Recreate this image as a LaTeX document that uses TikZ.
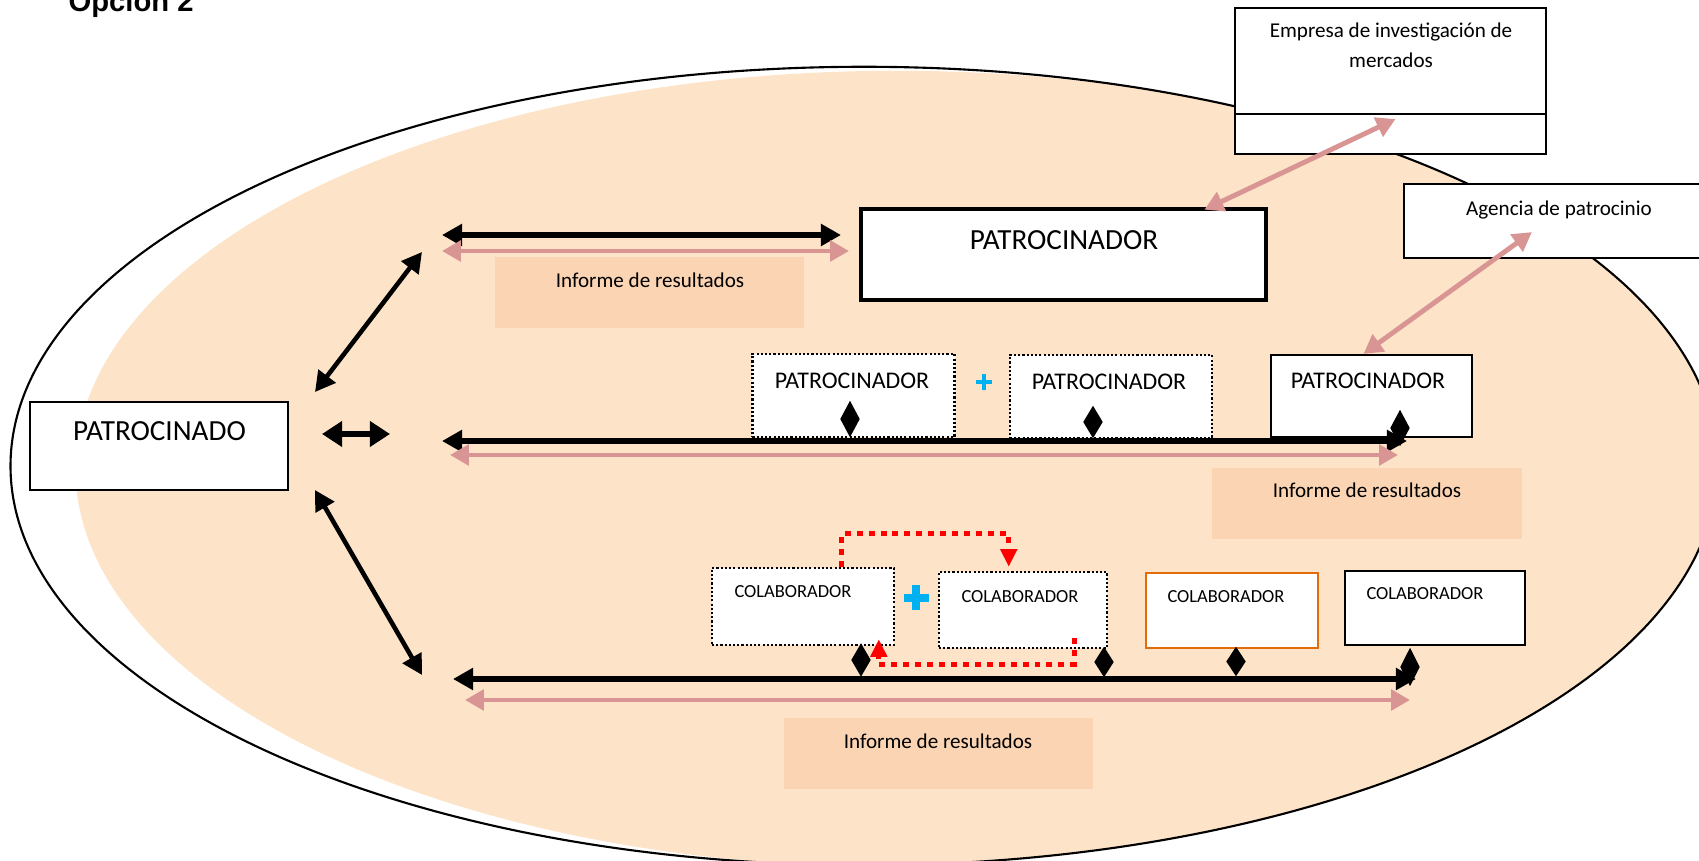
\documentclass[tikz,border=0pt]{standalone}
\usepackage{fontspec}
\setmainfont{Carlito}
\newfontfamily\arialfont{Liberation Sans}
\usetikzlibrary{arrows.meta,shapes.geometric,positioning}

\definecolor{durazno}{HTML}{FDE4C9}
\definecolor{duraznoosc}{HTML}{FBD4B4}
\definecolor{rosa}{HTML}{D99594}
\definecolor{celeste}{HTML}{00B0F0}
\definecolor{naranja}{HTML}{E36C0A}

\tikzset{
   caja/.style={draw, fill=white, line width=.6pt, inner sep=0pt},
   punteada/.style={caja, line width=.7pt, dash pattern=on .6pt off .6pt},
   informe/.style={fill=duraznoosc, inner sep=0pt},
   rombo/.style={diamond, fill=black, inner sep=0pt, minimum width=.2cm},
   negra/.style={line width=1.6pt, {Triangle[length=5.7pt,width=6pt]}-{Triangle[length=5.7pt,width=6pt]}},
   flecharosa/.style={rosa, line width=1.4pt, {Triangle[length=5.4pt,width=5.8pt]}-{Triangle[length=5.4pt,width=5.8pt]}},
   roja/.style={red, line width=1.4pt, dash pattern=on 1.7pt off 1.7pt, -{Triangle[length=5pt,width=4.6pt]}},
   grande/.style={font=\fontsize{8.3}{10}\selectfont},
   mediana/.style={font=\fontsize{6.8}{8}\selectfont},
   texto/.style={font=\fontsize{6}{8.5}\selectfont, align=center},
   chica/.style={font=\fontsize{5.25}{6.5}\selectfont}
}

\begin{document}
\begin{tikzpicture}[x=0.01cm, y=-0.01cm]
   \useasboundingbox (0,0) rectangle (1699,861);
   \clip (0,0) rectangle (1699,861);

   \begin{scope}
      \clip (864,466) ellipse [x radius=8.53cm, y radius=3.99cm];
      \fill[durazno] (896.5,469) ellipse [x radius=8.205cm, y radius=3.98cm];
   \end{scope}
   \draw[line width=.6pt] (864,466) ellipse [x radius=8.53cm, y radius=3.99cm];

   \node[anchor=base west, inner sep=0pt, font=\arialfont\bfseries\fontsize{8.3}{10}\selectfont] (titulo) at (68,12) {Opción 2};

   \node[informe, minimum width=3.09cm, minimum height=.71cm] (inf1) at (649.5,292.5) {};
   \node[informe, minimum width=3.10cm, minimum height=.71cm] (inf2) at (1367,503.5) {};
   \node[informe, minimum width=3.09cm, minimum height=.71cm] (inf3) at (938.5,753.5) {};

   \node[caja, minimum width=2.58cm, minimum height=.88cm] (pdo) at (159,446) {};
   \node[caja, line width=1.3pt, minimum width=4.05cm, minimum height=.91cm] (pat) at (1063.5,254.5) {};
   \node[caja, minimum width=3.11cm, minimum height=1.46cm] (emp) at (1390.5,81) {};
   \draw[line width=.6pt] (emp.west |- 0,114) -- (emp.east |- 0,114);
   \node[caja, minimum width=3.16cm, minimum height=.74cm] (ag) at (1562,221) {};

   \node[punteada, minimum width=2.02cm, minimum height=.83cm] (p1) at (853.5,395.5) {};
   \node[punteada, minimum width=2.02cm, minimum height=.83cm] (p2) at (1111,396.5) {};
   \node[caja, minimum width=2.01cm, minimum height=.82cm] (p3) at (1371.5,396) {};

   \node[punteada, minimum width=1.82cm, minimum height=.77cm] (c1) at (803,606.5) {};
   \node[punteada, minimum width=1.68cm, minimum height=.76cm] (c2) at (1023,610) {};
   \node[caja, draw=naranja, minimum width=1.72cm, minimum height=.75cm] (c3) at (1232,610.5) {};
   \node[caja, line width=.8pt, minimum width=1.80cm, minimum height=.74cm] (c4) at (1435,608) {};

   \node[texto] (tinf1) at (650,280) {Informe de resultados};
   \node[texto] (tinf2) at (1367,490.5) {Informe de resultados};
   \node[texto] (tinf3) at (938,741.5) {Informe de resultados};
   \node[texto] (temp) at (1391,45) {Empresa de investigación de\\mercados};
   \node[texto] (tag) at (1559,209.5) {Agencia de patrocinio};
   \node[grande] (tpdo) at (159.5,431.5) {PATROCINADO};
   \node[grande] (tpat) at (1064,240) {PATROCINADOR};
   \node[mediana] (tp1) at (852,381) {PATROCINADOR};
   \node[mediana] (tp2) at (1109,382) {PATROCINADOR};
   \node[mediana] (tp3) at (1368,380.5) {PATROCINADOR};
   \node[chica] (tc1) at (793,592) {COLABORADOR};
   \node[chica] (tc2) at (1020,596.5) {COLABORADOR};
   \node[chica] (tc3) at (1226,596.5) {COLABORADOR};
   \node[chica] (tc4) at (1425,593.5) {COLABORADOR};

   \coordinate (d1a) at (315,392);  \coordinate (d1b) at (422,252);
   \coordinate (d2a) at (322,434);  \coordinate (d2b) at (390,434);
   \coordinate (d3a) at (315,490);  \coordinate (d3b) at (422,675);
   \coordinate (h1a) at (442,235);  \coordinate (h1b) at (841,235);
   \coordinate (g1a) at (442,251);  \coordinate (g1b) at (849,251);
   \coordinate (h2a) at (442,441);  \coordinate (h2b) at (1407,441);
   \coordinate (g2a) at (450,455);  \coordinate (g2b) at (1398,455);
   \coordinate (h3a) at (453,679);  \coordinate (h3b) at (1416,679);
   \coordinate (g3a) at (465,700);  \coordinate (g3b) at (1410,700);

   \draw[negra, line width=1.3pt] (d1a) -- (d1b);
   \draw[negra, line width=1.7pt, {Triangle[length=5.7pt,width=7pt]}-{Triangle[length=5.7pt,width=7pt]}] (d2a) -- (d2b);
   \draw[negra, line width=1.3pt] (d3a) -- (d3b);

   \draw[negra] (h1a) -- (h1b);
   \draw[flecharosa] (g1a) -- (g1b);
   \draw[negra] (h2a) -- (h2b);
   \draw[flecharosa] (g2a) -- (g2b);
   \draw[negra] (h3a) -- (h3b);
   \draw[flecharosa] (g3a) -- (g3b);

   \draw[flecharosa] ([xshift=-.64cm,yshift=-.03cm]pat.north east) -- ([xshift=.05cm,yshift=.36cm]emp.south);
   \draw[flecharosa] ([xshift=-.08cm]p3.north) -- ([xshift=1.29cm,yshift=.27cm]ag.south west);

   \draw[roja] ([xshift=1.31cm]c1.north west) -- ++(0,-33) -| ([xshift=.71cm,yshift=.04cm]c2.north west);
   \draw[roja] ([xshift=-.34cm,yshift=.11cm]c2.south east) -- ++(0,26) -| ([xshift=1.68cm,yshift=.07cm]c1.south west);

   \draw[celeste, line width=1.4pt] (976,382) -- (992,382) (984,374) -- (984,390);
   \draw[celeste, line width=2.2pt] (903.5,598) -- (928.5,598) (916,585.5) -- (916,610.5);

   \node[rombo, minimum height=.37cm] (r1) at (850,419) {};
   \node[rombo, minimum height=.33cm] (r2) at (1093,422) {};
   \node[rombo, minimum height=.37cm] (r3) at (1400,428) {};
   \node[rombo, minimum height=.34cm] (r4) at (861,660) {};
   \node[rombo, minimum height=.31cm] (r5) at (1104,662) {};
   \node[rombo, minimum height=.30cm] (r6) at (1236,661.5) {};
   \node[rombo, minimum height=.39cm] (r7) at (1410,667) {};
\end{tikzpicture}
\end{document}
